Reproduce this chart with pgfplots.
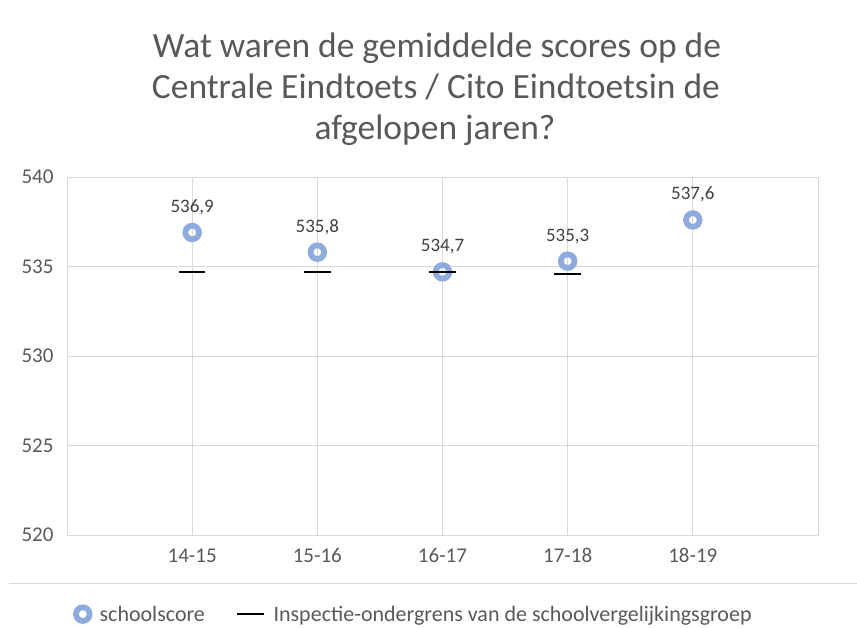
\documentclass[border=0pt]{standalone}
\usepackage{pgfplots}
\pgfplotsset{compat=1.18}
\usepackage{fontspec}
\setmainfont{Carlito}
\definecolor{gridc}{HTML}{D9D9D9}
\definecolor{txt}{HTML}{595959}
\definecolor{lbl}{HTML}{404040}
\definecolor{ptc}{HTML}{8FAADC}
\pgfplotsset{
  ringleg/.style={legend image code/.code={\draw[##1] plot coordinates {(9.7bp,0bp)};}},
  dashleg/.style={legend image code/.code={\draw[##1] plot coordinates {(13.3bp,0bp)};}},
}
\begin{document}
\begin{tikzpicture}
\begin{axis}[name=ax, at={(0,0)}, anchor=south west,
  scale only axis, width=751bp, height=358bp,
  xmin=-1, xmax=5, ymin=520, ymax=540,
  xtick={0,1,2,3,4}, xticklabels={14-15,15-16,16-17,17-18,18-19},
  ytick={520,525,530,535,540},
  grid=major, major grid style={gridc, line width=0.9bp},
  axis line style={gridc, line width=0.9bp},
  major tick length=0pt,
  tick label style={font=\fontsize{21bp}{25bp}\selectfont, text=txt},
  yticklabel style={xshift=-10bp},
  xticklabel style={yshift=-10bp},
  /pgf/number format/assume math mode=true,
  legend columns=2,
  legend style={at={(rel axis cs:0.012,-0.221)}, anchor=west, draw=none, fill=none,
    inner sep=0pt, outer sep=0pt,
    font=\fontsize{22bp}{26bp}\selectfont, text=txt, nodes={text=txt},
    /tikz/every odd column/.append style={column sep=8bp},
    /tikz/every even column/.append style={column sep=30bp}},
]
\addplot[only marks, mark=o, draw=ptc, mark size=6.8bp, line width=5.8bp, ringleg,
  nodes near coords={\pgfmathprintnumber[fixed,precision=1,fixed zerofill,use comma]{\pgfplotspointmeta}},
  every node near coord/.append style={anchor=base, yshift=20bp, text=lbl, font=\fontsize{19bp}{23bp}\selectfont}]
  coordinates {(0,536.9) (1,535.8) (2,534.7) (3,535.3) (4,537.6)};
\addlegendentry{schoolscore}
\addplot[only marks, mark=-, draw=black, mark size=13.3bp, line width=1.8bp, dashleg]
  coordinates {(0,534.7) (1,534.7) (2,534.7) (3,534.6)};
\addlegendentry{Inspectie-ondergrens van de schoolvergelijkingsgroep}
\end{axis}
\draw[gridc, line width=1bp] ([xshift=-58bp, yshift=-48.3bp]ax.south west) -- ([xshift=790bp, yshift=-48.3bp]ax.south west);
\begin{scope}[every node/.style={anchor=base, text=txt, font=\fontsize{35.5bp}{41bp}\selectfont, inner sep=0pt}]
\node at ([xshift=370bp, yshift=119bp]ax.north west) {Wat waren de gemiddelde scores op de};
\node at ([xshift=369bp, yshift=78bp]ax.north west) {Centrale Eindtoets / Cito Eindtoetsin de};
\node at ([xshift=368bp, yshift=37bp]ax.north west) {afgelopen jaren?};
\end{scope}
\pgfresetboundingbox
\useasboundingbox ([xshift=-67bp,yshift=-93bp]ax.south west) rectangle ++(857bp,628bp);
\end{tikzpicture}
\end{document}
